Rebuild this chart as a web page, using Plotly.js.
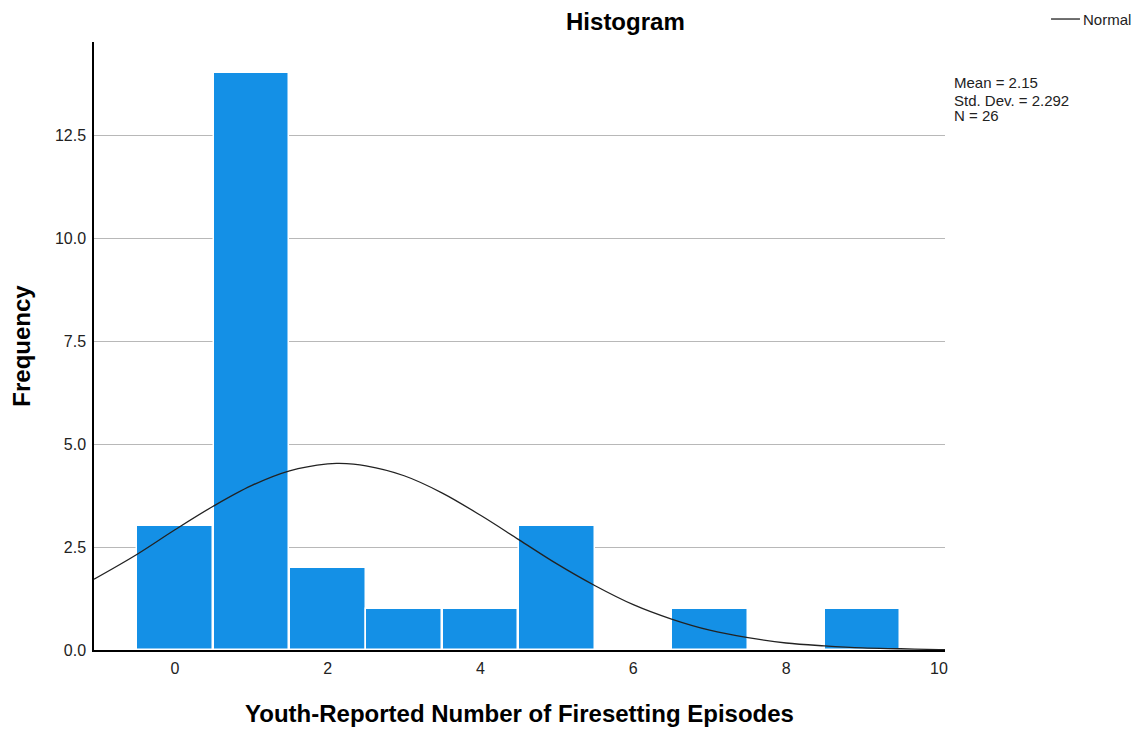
<!DOCTYPE html>
<html>
<head>
<meta charset="utf-8">
<script src="https://cdn.plot.ly/plotly-3.0.1.min.js"></script>
<style>html,body{margin:0;padding:0;background:#fff;}#chart{width:1135px;height:730px;}</style>
</head>
<body>
<div id="chart"></div>
<script>
// Histogram bins (centres) and counts
var binCenters = [0, 1, 2, 3, 4, 5, 7, 9];
var binCounts  = [3, 14, 2, 1, 1, 3, 1, 1];

// Normal curve
var curveX = [-1.06, -0.5, 0, 0.5, 1, 1.5, 2, 2.15, 2.5, 3, 3.5, 4, 4.5, 5, 5.5, 6, 6.5, 7, 7.5, 8, 8.5, 9, 9.5, 10, 10.08];
var curveY = [1.72, 2.32, 2.92, 3.49, 3.99, 4.35, 4.52, 4.53, 4.47, 4.23, 3.81, 3.27, 2.68, 2.09, 1.56, 1.10, 0.75, 0.48, 0.30, 0.17, 0.10, 0.05, 0.03, 0.01, 0.01];

var statsLines = ["Mean = 2.15", "Std. Dev. = 2.292", "N = 26"];
var legendLabel = "Normal";
var yTicks = [0, 2.5, 5, 7.5, 10, 12.5];
var yTickText = ["0.0", "2.5", "5.0", "7.5", "10.0", "12.5"];
var xTicks = [0, 2, 4, 6, 8, 10];

var font = "Arial, 'Liberation Sans', sans-serif";

var traces = [
  {
    type: "bar",
    x: binCenters,
    y: binCounts,
    width: 0.99,
    marker: {color: "#1490e6", line: {color: "#ffffff", width: 1.5}},
    showlegend: false,
    hoverinfo: "x+y"
  },
  {
    type: "scatter",
    mode: "lines",
    x: curveX,
    y: curveY,
    line: {color: "#222222", width: 1.3, shape: "spline"},
    name: legendLabel,
    showlegend: false
  }
];

// stats text lines, one annotation per line
var statsY = [0.9326, 0.9046, 0.8783];
var annotations = statsLines.map(function (t, i) {
  return {
    xref: "paper", yref: "paper",
    x: 1.0095, xanchor: "left",
    y: statsY[i], yanchor: "middle",
    showarrow: false, borderpad: 0,
    text: t,
    font: {size: 15, color: "#222"}
  };
});
annotations.push({
  xref: "paper", yref: "paper",
  x: 1.1610, xanchor: "left",
  y: 1.0378, yanchor: "middle",
  showarrow: false, borderpad: 0,
  text: legendLabel,
  font: {size: 15, color: "#222"}
});

var layout = {
  width: 1135,
  height: 730,
  margin: {l: 94, r: 190, t: 42, b: 80},
  paper_bgcolor: "#ffffff",
  plot_bgcolor: "#ffffff",
  font: {family: font, color: "#222222", size: 16},
  title: {
    text: "<b>Histogram</b>",
    font: {family: font, size: 24, color: "#000"},
    xref: "container", x: 0.551, xanchor: "center",
    yref: "container", y: 0.970, yanchor: "middle"
  },
  bargap: 0,
  showlegend: false,
  xaxis: {
    range: [-1.06, 10.08],
    tickvals: xTicks,
    ticktext: xTicks.map(String),
    showgrid: false,
    zeroline: false,
    showline: true,
    linecolor: "#000",
    linewidth: 1.5,
    ticks: "",
    ticklabelstandoff: 3,
    tickfont: {size: 16, color: "#222"},
    title: {text: "<b>Youth-Reported Number of Firesetting Episodes</b>", font: {size: 24, color: "#000"}, standoff: 29}
  },
  yaxis: {
    range: [0, 14.76],
    tickvals: yTicks,
    ticktext: yTickText,
    showgrid: true,
    gridcolor: "#b8b8b8",
    gridwidth: 1,
    zeroline: false,
    showline: true,
    linecolor: "#000",
    linewidth: 1.5,
    ticks: "",
    ticklabelstandoff: 3,
    tickfont: {size: 16, color: "#222"},
    title: {text: "<b>Frequency</b>", font: {size: 24, color: "#000"}, standoff: 18}
  },
  shapes: [{
    type: "line", xref: "paper", yref: "paper",
    x0: 1.1246, x1: 1.1586, y0: 1.0378, y1: 1.0378,
    line: {color: "#222222", width: 1.3}
  }],
  annotations: annotations
};

Plotly.newPlot("chart", traces, layout, {displayModeBar: false, responsive: false});
</script>
</body>
</html>
